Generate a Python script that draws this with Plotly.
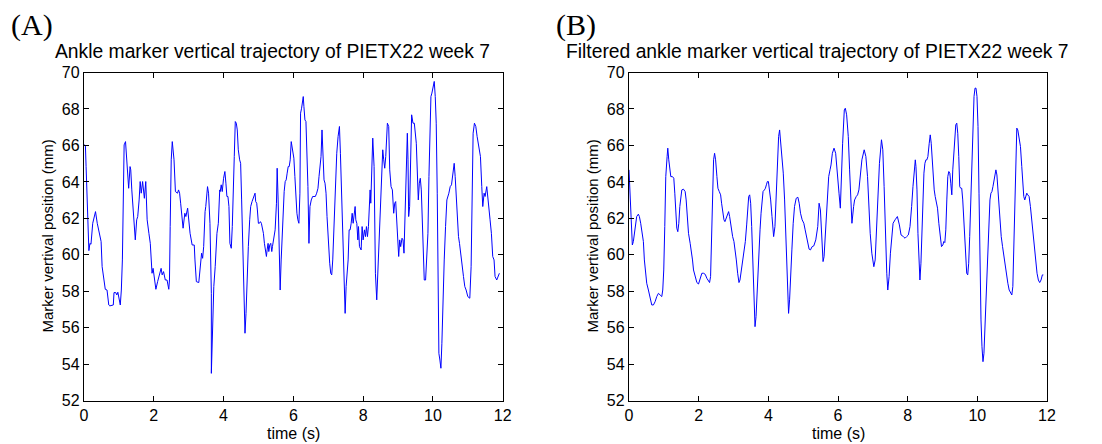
import plotly.graph_objects as go

# Raw ankle marker trajectory (time in s, vertical position in mm)
raw_t = [0.0, 0.04, 0.06, 0.12, 0.14, 0.17, 0.2, 0.25, 0.3, 0.33, 0.38, 0.45, 0.49, 0.52, 0.56, 0.61, 0.66, 0.71, 0.74, 0.81,
         0.84, 0.86, 0.91, 0.94, 0.97, 1.04, 1.07, 1.1, 1.13, 1.15, 1.19, 1.22, 1.25, 1.28, 1.32, 1.34, 1.37, 1.4, 1.44, 1.47,
         1.51, 1.54, 1.58, 1.61, 1.64, 1.68, 1.73, 1.77, 1.81, 1.82, 1.86, 1.9, 1.93, 1.95, 1.98, 2.02, 2.06, 2.11, 2.16, 2.21,
         2.24, 2.28, 2.33, 2.38, 2.43, 2.45, 2.47, 2.5, 2.53, 2.58, 2.62, 2.68, 2.71, 2.74, 2.77, 2.8, 2.84, 2.89, 2.92, 2.97,
         3.0, 3.04, 3.1, 3.16, 3.18, 3.22, 3.29, 3.34, 3.37, 3.4, 3.43, 3.47, 3.49, 3.54, 3.57, 3.61, 3.65, 3.65, 3.69, 3.72,
         3.76, 3.81, 3.85, 3.89,
         3.904, 3.933, 3.962, 4.0, 4.038, 4.067, 4.096, 4.125, 4.154, 4.182, 4.221, 4.25, 4.278, 4.307, 4.336, 4.365, 4.393, 4.422,
         4.461, 4.489, 4.518, 4.547, 4.576, 4.614, 4.643, 4.672, 4.71, 4.749, 4.777, 4.816, 4.864, 4.902, 4.921, 4.95, 4.969,
         4.998, 5.027, 5.056, 5.084, 5.113, 5.142, 5.171, 5.2, 5.228, 5.248, 5.276, 5.296, 5.324, 5.353, 5.382, 5.401, 5.44,
         5.478, 5.516, 5.536, 5.564, 5.593, 5.622, 5.651, 5.679, 5.708, 5.737, 5.766, 5.795, 5.823, 5.852, 5.881, 5.91, 5.939,
         5.958, 5.987, 6.015, 6.044, 6.073, 6.102, 6.13, 6.159, 6.188, 6.207, 6.236, 6.265, 6.284, 6.303, 6.332, 6.361, 6.39,
         6.418, 6.447, 6.476, 6.514, 6.553, 6.591, 6.63, 6.668, 6.706, 6.735, 6.764, 6.793, 6.821, 6.85, 6.879, 6.908, 6.937,
         6.965, 6.994, 7.023, 7.042, 7.071, 7.1, 7.129, 7.157, 7.186, 7.215, 7.244, 7.282, 7.321, 7.349, 7.388, 7.426, 7.455,
         7.484, 7.512, 7.541, 7.57, 7.599, 7.628,
         7.657, 7.686, 7.714, 7.771, 7.79, 7.819, 7.848, 7.867, 7.895, 7.943, 7.971, 8.0, 8.038, 8.067, 8.095, 8.124, 8.152,
         8.181, 8.2, 8.219, 8.248, 8.276, 8.314, 8.333, 8.352, 8.39, 8.419, 8.448, 8.486, 8.505, 8.533, 8.562, 8.59, 8.619,
         8.648, 8.695, 8.733, 8.762, 8.8, 8.838, 8.876, 8.905, 8.933, 8.971, 9.019, 9.048, 9.076, 9.114, 9.143, 9.171, 9.2,
         9.229, 9.267, 9.286, 9.305, 9.333, 9.362, 9.39, 9.429, 9.467, 9.524, 9.552, 9.581, 9.61, 9.638, 9.667, 9.695, 9.724,
         9.752, 9.79, 9.819, 9.857, 9.886, 9.914, 9.943, 9.971, 10.0, 10.038, 10.067, 10.095, 10.124, 10.143, 10.171, 10.2,
         10.229, 10.257, 10.286, 10.324, 10.362, 10.4, 10.457, 10.495, 10.533, 10.571, 10.61, 10.638, 10.667, 10.695, 10.733,
         10.762, 10.8, 10.829, 10.876, 10.914, 10.952, 11.0, 11.057, 11.095, 11.124, 11.152, 11.19, 11.229, 11.267, 11.362,
         11.4, 11.429, 11.467, 11.495, 11.543, 11.581, 11.638, 11.676, 11.714, 11.752, 11.781, 11.829, 11.876, 11.905]
raw_mm = [66.03, 66.0, 64.84, 60.27, 60.23, 60.63, 60.58, 61.73, 62.28, 62.37, 61.73, 61.18, 60.73, 59.35, 58.81, 58.11, 58.07, 57.25, 57.2, 57.25,
          57.25, 57.93, 57.93, 57.8, 57.95, 57.25, 58.07, 59.72, 64.29, 66.03, 66.21, 65.21, 64.2, 63.65, 64.84, 64.66, 63.56, 62.83, 61.37, 60.82,
          61.92, 62.1, 63.01, 64.02, 63.38, 64.02, 63.1, 64.02, 61.92, 61.73, 61.18, 60.63, 59.72, 58.99, 59.26, 58.62, 58.11, 58.53, 58.9, 59.26,
          58.9, 59.08, 58.62, 58.62, 58.11, 58.62, 61.55, 65.21, 66.21, 65.21, 63.47, 63.38, 63.56, 63.38, 62.83, 62.28, 61.46, 62.28, 62.1, 62.56,
          61.73, 61.18, 60.54, 60.54, 59.72, 58.53, 58.48, 59.72, 60.09, 59.81, 60.45, 62.37, 62.65, 63.74, 63.38, 61.73, 57.89, 53.5, 56.06, 58.26,
          59.35, 61.18, 61.73, 63.56,
          63.47, 63.84, 63.47, 64.2, 64.57, 63.93, 63.2, 63.2, 62.65, 60.63, 60.36, 61.55, 64.11, 65.39, 67.31, 67.22, 66.85, 65.76,
          65.21, 65.02, 63.01, 60.45, 58.26, 55.7, 56.79, 58.99, 60.45, 61.92, 62.65, 62.92, 63.2, 63.38, 62.92, 62.83, 62.46,
          61.73, 61.73, 61.82, 61.73, 61.46, 61.18, 60.63, 60.18, 59.91, 60.27, 60.63, 60.18, 60.54, 60.63, 60.18, 60.45, 61.0,
          61.37, 62.83, 64.75, 63.01, 60.45, 58.07, 59.72, 61.0, 62.46, 63.47, 64.02, 64.11, 64.48, 64.84, 64.84, 65.21, 66.21,
          66.03, 65.57, 65.3, 64.29, 62.83, 62.28, 61.92, 61.73, 63.38, 67.77, 68.04, 68.32, 68.68, 68.13, 67.4, 67.31, 65.94,
          63.74, 60.63, 62.65, 63.01, 63.2, 63.2, 63.2, 63.38, 63.65, 64.29, 64.75, 65.39, 66.85, 65.21, 64.11, 63.93, 63.38,
          62.1, 60.82, 60.45, 59.54, 58.99, 58.9, 59.72, 61.18, 62.65, 64.48, 65.57, 66.49, 67.04, 65.57, 63.01, 59.91, 57.53,
          56.79, 58.26, 59.17, 59.72, 61.37, 61.37,
          61.73, 62.28, 61.73, 62.65, 61.92, 61.73, 60.82, 61.55, 60.45, 60.27, 61.55, 60.82, 61.37, 61.0, 61.55, 61.0, 61.55,
          62.83, 63.56, 62.83, 64.29, 66.4, 64.84, 61.18, 58.99, 57.53, 58.81, 60.45, 62.1, 63.01, 64.66, 65.76, 65.21, 64.75,
          65.39, 67.22, 67.04, 64.66, 63.74, 63.56, 62.28, 62.83, 62.92, 61.37, 59.91, 60.82, 60.45, 60.91, 60.82, 60.09, 62.28,
          65.21, 66.67, 65.21, 62.1, 62.65, 66.12, 67.68, 67.22, 67.22, 66.12, 64.48, 63.01, 63.93, 64.2, 63.56, 61.55, 59.72,
          58.62, 58.62, 59.72, 61.18, 64.29, 67.04, 68.68, 68.87, 69.23, 69.51, 68.68, 67.22, 63.38, 57.89, 54.6, 54.23,
          53.78, 55.15, 57.71, 59.72, 61.55, 63.01, 63.38, 63.74, 63.84, 64.48, 65.02, 64.29, 63.01, 61.73, 61.0,
          60.63, 59.91, 59.54, 58.81, 58.26, 58.07, 57.71, 57.62, 59.35, 63.01, 66.67, 67.22, 67.04, 66.49, 65.39,
          63.74, 62.65, 63.38, 63.2, 63.74, 62.83, 61.92, 61.18, 59.91, 59.72, 58.81, 58.62, 58.81, 58.99]

# Filtered ankle marker trajectory (time in s, vertical position in mm)
filt_t = [0.0, 0.096, 0.125, 0.173, 0.221, 0.269, 0.298, 0.336, 0.384, 0.413, 0.441, 0.47, 0.509, 0.557, 0.605, 0.653, 0.701,
          0.749, 0.797, 0.845, 0.893, 0.941, 0.969, 0.998, 1.027, 1.056, 1.094, 1.113, 1.142, 1.171, 1.2, 1.248, 1.286, 1.315,
          1.344, 1.372, 1.401, 1.43, 1.459, 1.488, 1.516, 1.564, 1.612, 1.641, 1.67, 1.708, 1.756, 1.795, 1.823, 1.852, 1.891,
          1.948, 1.996, 2.044, 2.092, 2.14, 2.188, 2.236, 2.284, 2.313, 2.342, 2.37, 2.399, 2.428, 2.457, 2.486, 2.524, 2.553,
          2.591, 2.63, 2.658, 2.687, 2.726, 2.754, 2.793, 2.831, 2.86, 2.889, 2.917, 2.946, 2.975, 3.013, 3.052, 3.081, 3.119,
          3.157, 3.186, 3.225, 3.263, 3.301, 3.34, 3.378, 3.407, 3.436, 3.464, 3.493, 3.522, 3.551, 3.58, 3.618, 3.647, 3.676,
          3.704, 3.733, 3.762, 3.791, 3.82, 3.848, 3.887, 3.916, 3.944, 3.973, 4.002, 4.031,
          4.067, 4.105, 4.152, 4.19, 4.219, 4.257, 4.295, 4.324, 4.352, 4.39, 4.429, 4.467, 4.505, 4.543, 4.581, 4.61, 4.638,
          4.676, 4.714, 4.752, 4.8, 4.848, 4.886, 4.924, 4.971, 5.019, 5.057, 5.114, 5.171, 5.21, 5.257, 5.305, 5.362, 5.419,
          5.457, 5.495, 5.533, 5.571, 5.6, 5.638, 5.667, 5.695, 5.733, 5.771, 5.8, 5.838, 5.886, 5.933, 5.981, 6.029, 6.067,
          6.095, 6.133, 6.181, 6.21, 6.248, 6.295, 6.333, 6.371, 6.4, 6.448, 6.476, 6.524, 6.562, 6.6, 6.638, 6.686, 6.752, 6.8,
          6.848, 6.886, 6.924, 6.971, 7.029, 7.067, 7.105, 7.143, 7.19, 7.248, 7.286, 7.324, 7.362, 7.4, 7.429, 7.467, 7.505,
          7.543, 7.581, 7.638, 7.705, 7.762, 7.81, 7.876, 7.924, 7.971, 8.019, 8.067,
          8.086, 8.114, 8.152, 8.19, 8.219, 8.238, 8.267, 8.295, 8.324, 8.352, 8.381, 8.41, 8.438, 8.467, 8.495, 8.524, 8.552,
          8.581, 8.619, 8.648, 8.676, 8.705, 8.733, 8.762, 8.79, 8.819, 8.857, 8.895, 8.933, 8.971, 9.01, 9.038, 9.067, 9.095,
          9.124, 9.152, 9.181, 9.21, 9.238, 9.267, 9.295, 9.324, 9.352, 9.381, 9.41, 9.438, 9.467, 9.495, 9.524, 9.552, 9.581,
          9.619, 9.657, 9.695, 9.724, 9.752, 9.781, 9.81, 9.838, 9.867, 9.905, 9.933, 9.962, 9.99, 10.019, 10.048, 10.076,
          10.105, 10.133, 10.162, 10.19, 10.219, 10.248, 10.276, 10.305, 10.333, 10.362, 10.39, 10.419, 10.448, 10.476, 10.505,
          10.533, 10.562, 10.59, 10.619, 10.648, 10.686, 10.724, 10.762, 10.8, 10.838, 10.876, 10.914, 10.952, 10.99, 11.019,
          11.048, 11.076, 11.105, 11.133, 11.162, 11.2, 11.238, 11.276, 11.305, 11.333, 11.362, 11.39, 11.419, 11.448, 11.486,
          11.524, 11.562, 11.6, 11.638, 11.676, 11.714, 11.752, 11.79, 11.829, 11.867, 11.895]
filt_mm = [64.66, 60.54, 60.73, 61.55, 62.1, 62.23, 62.1, 61.73, 61.18, 60.73, 59.72, 58.99, 58.44, 58.07, 57.71, 57.25, 57.25,
           57.43, 57.71, 57.89, 57.8, 57.71, 58.07, 59.17, 61.55, 64.29, 65.39, 65.85, 65.21, 64.48, 64.29, 64.29, 64.2, 63.38,
           62.46, 61.46, 61.27, 61.73, 62.65, 63.38, 63.56, 63.6, 63.47, 63.01, 62.28, 61.18, 60.63, 60.18, 59.72, 59.17, 58.81,
           58.48, 58.4, 58.71, 58.99, 58.99, 58.93, 58.71, 58.53, 58.48, 58.81, 61.55, 63.74, 65.21, 65.57, 65.21, 64.29, 63.65,
           63.47, 63.29, 62.83, 62.28, 61.92, 61.82, 62.01, 62.28, 62.37, 62.1, 61.73, 61.27, 61.0, 60.73, 60.27, 59.72, 58.99,
           58.48, 58.62, 59.17, 59.72, 60.27, 60.73, 61.64, 62.65, 63.2, 63.29, 62.83, 61.55, 59.54, 57.53, 56.06, 56.61, 58.07,
           58.99, 60.27, 61.37, 62.28, 63.01, 63.47, 63.56, 63.65, 63.84, 64.02, 64.02, 63.65,
           63.01, 62.1, 61.0, 61.55, 63.01, 65.21, 66.49, 66.85, 66.31, 65.57, 64.48, 63.01, 61.0, 58.62, 56.79, 57.53, 58.99,
           60.27, 61.73, 62.65, 63.1, 63.16, 62.83, 62.28, 61.92, 61.73, 61.37, 60.73, 60.31, 60.27, 60.45, 60.49, 60.82, 61.55,
           62.83, 62.46, 60.82, 59.63, 59.9, 61.18, 62.65, 63.56, 64.29, 64.66, 64.93, 65.57, 65.85, 65.57, 64.66, 63.38, 62.56,
           64.29, 66.12, 67.95, 68.04, 67.68, 66.49, 64.66, 62.83, 61.73, 62.65, 63.01, 63.2, 63.29, 63.56, 64.2, 65.21, 65.76,
           65.39, 64.29, 62.65, 61.18, 60.09, 59.35, 59.72, 61.37, 63.2, 65.02, 66.31, 65.76, 63.74, 60.82, 58.99, 58.07, 58.81,
           60.09, 61.0, 61.73, 61.92, 62.1, 61.64, 61.09, 61.0, 60.91, 61.0, 61.09, 61.55,
           61.92, 62.65, 63.74, 64.66, 65.21, 64.84, 63.56, 61.18, 59.35, 58.62, 59.54, 61.0, 63.38, 64.48, 65.02, 65.21, 65.21,
           65.39, 66.12, 66.58, 66.12, 65.21, 64.11, 63.56, 63.2, 62.92, 62.56, 61.73, 61.0, 60.45, 60.54, 60.73, 60.67, 61.37,
           63.01, 64.29, 64.57, 64.48, 63.93, 63.29, 64.66, 65.76, 66.49, 67.13, 67.22, 66.67, 65.39, 63.74, 63.65, 63.65, 63.01,
           61.55, 59.72, 58.99, 58.9, 59.54, 61.0, 62.83, 65.21, 67.59, 68.68, 69.14, 69.14, 68.68, 67.04, 63.38, 59.35,
           56.43, 54.96, 54.14, 54.6, 56.06, 57.16, 58.99, 60.63, 62.1, 63.01, 63.38, 63.47, 63.74, 64.11, 64.38,
           64.66, 64.38, 63.56, 62.65, 61.73, 61.0, 60.45, 59.91, 59.35, 58.81, 58.44, 58.07, 57.89, 57.8, 58.26,
           60.45, 63.74, 66.12, 66.95, 66.85, 66.49, 65.94, 64.84, 63.93, 63.2, 63.01, 63.2, 63.38, 63.29, 63.2,
           62.65, 61.92, 61.0, 60.27, 59.54, 58.99, 58.62, 58.48, 58.62, 58.9, 58.9]

panel_labels = ["(A)", "(B)"]
titles = ["Ankle marker vertical trajectory of PIETX22 week 7",
          "Filtered ankle marker vertical trajectory of PIETX22 week 7"]
y_title = "Marker vertival position (mm)"
x_title = "time (s)"
x_ticks = [0, 2, 4, 6, 8, 10, 12]
y_ticks = [52, 54, 56, 58, 60, 62, 64, 66, 68, 70]

W, H = 1102, 444
FONT = "Liberation Sans, Arial, sans-serif"
SERIF = "Liberation Serif, Times New Roman, serif"
LINE = "#0000ff"


def px(x):
    return x / W


def py(y):
    return 1 - y / H


fig = go.Figure()
fig.add_trace(go.Scatter(x=raw_t, y=raw_mm, mode="lines", line=dict(color=LINE, width=1),
                         xaxis="x", yaxis="y", showlegend=False))
fig.add_trace(go.Scatter(x=filt_t, y=filt_mm, mode="lines", line=dict(color=LINE, width=1),
                         xaxis="x2", yaxis="y2", showlegend=False))

axis_common = dict(showline=True, mirror="ticks", linecolor="black", linewidth=1.3,
                   ticks="inside", ticklen=5, tickwidth=1, tickcolor="black",
                   showgrid=False, zeroline=False, automargin=False,
                   tickfont=dict(family=FONT, size=16, color="black"))

plot_top, plot_bottom = 72.5, 400.7
left_x0, left_x1 = 84, 502.7
right_x0, right_x1 = 629, 1047

fig.update_layout(
    width=W, height=H,
    margin=dict(l=0, r=0, t=0, b=0, pad=0, autoexpand=False),
    paper_bgcolor="white", plot_bgcolor="white",
    xaxis=dict(domain=[px(left_x0), px(left_x1)], range=[0, 12], tickvals=x_ticks,
               anchor="y", **axis_common),
    yaxis=dict(domain=[py(plot_bottom), py(plot_top)], range=[52, 70], tickvals=y_ticks,
               anchor="x", **axis_common),
    xaxis2=dict(domain=[px(right_x0), px(right_x1)], range=[0, 12], tickvals=x_ticks,
                anchor="y2", **axis_common),
    yaxis2=dict(domain=[py(plot_bottom), py(plot_top)], range=[52, 70], tickvals=y_ticks,
                anchor="x2", **axis_common),
)

title_centers = [272.5, 817.5]
annotations = []
for i, (x0, x1) in enumerate([(left_x0, left_x1), (right_x0, right_x1)]):
    cx = (x0 + x1) / 2
    # panel letter
    annotations.append(dict(text=panel_labels[i], x=px(x0 - 75), y=py(25),
                            xref="paper", yref="paper", xanchor="left", yanchor="middle",
                            showarrow=False, font=dict(family=SERIF, size=30, color="black")))
    # panel title
    annotations.append(dict(text=titles[i], x=px(title_centers[i]), y=py(51),
                            xref="paper", yref="paper", xanchor="center", yanchor="middle",
                            showarrow=False, font=dict(family=FONT, size=19.3, color="black")))
    # x axis title, kept inside the bottom edge of the page
    annotations.append(dict(text=x_title, x=px(cx), y=py(443),
                            xref="paper", yref="paper", xanchor="center", yanchor="bottom",
                            borderpad=0, showarrow=False,
                            font=dict(family=FONT, size=16, color="black")))
    # y axis title
    annotations.append(dict(text=y_title, x=px(x0 - 36), y=py((plot_top + plot_bottom) / 2),
                            xref="paper", yref="paper", xanchor="center", yanchor="middle",
                            textangle=-90, showarrow=False,
                            font=dict(family=FONT, size=15, color="black")))
fig.update_layout(annotations=annotations)

fig.write_html("out.html")
